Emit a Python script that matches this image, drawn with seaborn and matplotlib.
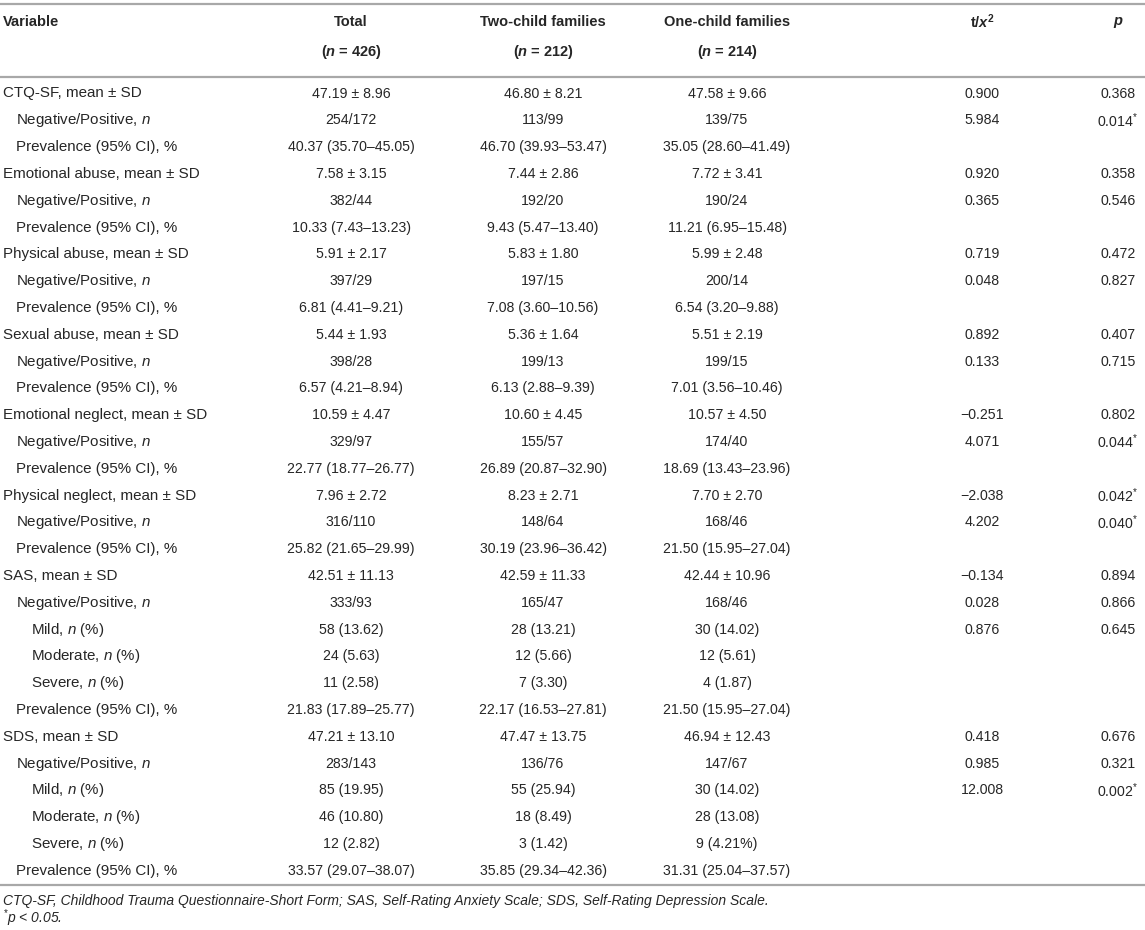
import matplotlib
matplotlib.use("Agg")
import matplotlib.pyplot as plt
import seaborn as sns

sns.set_theme(style="white")
plt.rcParams['font.family'] = ['Liberation Sans', 'DejaVu Sans']
plt.rcParams['mathtext.fontset'] = 'custom'
plt.rcParams['mathtext.rm'] = 'Liberation Sans'
plt.rcParams['mathtext.it'] = 'Liberation Sans:italic'
plt.rcParams['mathtext.bf'] = 'Liberation Sans:bold'
try:
    plt.rcParams['mathtext.bfit'] = 'Liberation Sans:italic:bold'
    BFIT = True
except Exception:
    BFIT = False

def bi(s):
    return r"$\mathbfit{%s}$" % s if BFIT else r"$\mathit{%s}$" % s

# ---------------- data ----------------
headers = ["Variable", "Total", "Two-child families", "One-child families",
           "t/" + (r"$\mathbfit{x}^{\mathbf{2}}$" if BFIT else r"$x^2$"), bi("p")]
header_n = ["", "426", "212", "214", "", ""]

row_labels = [
    "CTQ-SF, mean ± SD", "Negative/Positive, $n$", "Prevalence (95% CI), %",
    "Emotional abuse, mean ± SD", "Negative/Positive, $n$", "Prevalence (95% CI), %",
    "Physical abuse, mean ± SD", "Negative/Positive, $n$", "Prevalence (95% CI), %",
    "Sexual abuse, mean ± SD", "Negative/Positive, $n$", "Prevalence (95% CI), %",
    "Emotional neglect, mean ± SD", "Negative/Positive, $n$", "Prevalence (95% CI), %",
    "Physical neglect, mean ± SD", "Negative/Positive, $n$", "Prevalence (95% CI), %",
    "SAS, mean ± SD", "Negative/Positive, $n$", "Mild, $n$ (%)", "Moderate, $n$ (%)",
    "Severe, $n$ (%)", "Prevalence (95% CI), %",
    "SDS, mean ± SD", "Negative/Positive, $n$", "Mild, $n$ (%)", "Moderate, $n$ (%)",
    "Severe, $n$ (%)", "Prevalence (95% CI), %",
]
row_levels = [0, 1, 1] * 6 + [0, 1, 2, 2, 2, 1] * 2

total = [
    "47.19 ± 8.96", "254/172", "40.37 (35.70–45.05)",
    "7.58 ± 3.15", "382/44", "10.33 (7.43–13.23)",
    "5.91 ± 2.17", "397/29", "6.81 (4.41–9.21)",
    "5.44 ± 1.93", "398/28", "6.57 (4.21–8.94)",
    "10.59 ± 4.47", "329/97", "22.77 (18.77–26.77)",
    "7.96 ± 2.72", "316/110", "25.82 (21.65–29.99)",
    "42.51 ± 11.13", "333/93", "58 (13.62)", "24 (5.63)", "11 (2.58)", "21.83 (17.89–25.77)",
    "47.21 ± 13.10", "283/143", "85 (19.95)", "46 (10.80)", "12 (2.82)", "33.57 (29.07–38.07)",
]
two_child = [
    "46.80 ± 8.21", "113/99", "46.70 (39.93–53.47)",
    "7.44 ± 2.86", "192/20", "9.43 (5.47–13.40)",
    "5.83 ± 1.80", "197/15", "7.08 (3.60–10.56)",
    "5.36 ± 1.64", "199/13", "6.13 (2.88–9.39)",
    "10.60 ± 4.45", "155/57", "26.89 (20.87–32.90)",
    "8.23 ± 2.71", "148/64", "30.19 (23.96–36.42)",
    "42.59 ± 11.33", "165/47", "28 (13.21)", "12 (5.66)", "7 (3.30)", "22.17 (16.53–27.81)",
    "47.47 ± 13.75", "136/76", "55 (25.94)", "18 (8.49)", "3 (1.42)", "35.85 (29.34–42.36)",
]
one_child = [
    "47.58 ± 9.66", "139/75", "35.05 (28.60–41.49)",
    "7.72 ± 3.41", "190/24", "11.21 (6.95–15.48)",
    "5.99 ± 2.48", "200/14", "6.54 (3.20–9.88)",
    "5.51 ± 2.19", "199/15", "7.01 (3.56–10.46)",
    "10.57 ± 4.50", "174/40", "18.69 (13.43–23.96)",
    "7.70 ± 2.70", "168/46", "21.50 (15.95–27.04)",
    "42.44 ± 10.96", "168/46", "30 (14.02)", "12 (5.61)", "4 (1.87)", "21.50 (15.95–27.04)",
    "46.94 ± 12.43", "147/67", "30 (14.02)", "28 (13.08)", "9 (4.21%)", "31.31 (25.04–37.57)",
]
t_vals = [
    "0.900", "5.984", "",
    "0.920", "0.365", "",
    "0.719", "0.048", "",
    "0.892", "0.133", "",
    "−0.251", "4.071", "",
    "−2.038", "4.202", "",
    "−0.134", "0.028", "0.876", "", "", "",
    "0.418", "0.985", "12.008", "", "", "",
]
p_vals = [
    "0.368", "0.014*", "",
    "0.358", "0.546", "",
    "0.472", "0.827", "",
    "0.407", "0.715", "",
    "0.802", "0.044*", "",
    "0.042*", "0.040*", "",
    "0.894", "0.866", "0.645", "", "", "",
    "0.676", "0.321", "0.002*", "", "", "",
]
footnotes = [
    "CTQ-SF, Childhood Trauma Questionnaire-Short Form; SAS, Self-Rating Anxiety Scale; SDS, Self-Rating Depression Scale.",
    "$^{*}$p < 0.05.",
]

# ---------------- layout ----------------
W, H = 1145, 930
fig = plt.figure(figsize=(W / 100, H / 100), dpi=100)
ax = fig.add_axes([0, 0, 1, 1])
ax.set_xlim(0, W)
ax.set_ylim(H, 0)
ax.axis("off")

txt = "#262626"
rule = "#a8a8a8"
fs_lab = 10.9
fs_num = 10.2
fs_head = 10.5

col_x = [3, 351, 543, 727, 982, 1118]
indent = [3, 16, 31]

# rules
for y in (4, 77, 885):
    ax.plot([0, W], [y, y], color=rule, lw=1.6, solid_capstyle="butt")

# headers
for i, h in enumerate(headers):
    ha = "left" if i == 0 else "center"
    ax.text(col_x[i], 22, h, ha=ha, va="center", fontsize=fs_head, fontweight="bold", color=txt)
    if header_n[i]:
        ax.text(col_x[i], 52, "(" + bi("n") + " = " + header_n[i] + ")", ha="center", va="center",
                fontsize=fs_head, fontweight="bold", color=txt)

def fmt_p(s):
    if s.endswith("*"):
        return s[:-1] + "$^{*}$"
    return s

y0, dy = 93.5, 26.8
for r, lab in enumerate(row_labels):
    y = y0 + r * dy
    ax.text(indent[row_levels[r]], y, lab, ha="left", va="center", fontsize=fs_lab, color=txt)
    for c, col in enumerate([total, two_child, one_child, t_vals, p_vals]):
        s = col[r]
        if s:
            ax.text(col_x[c + 1], y, fmt_p(s), ha="center", va="center", fontsize=fs_num, color=txt)

ax.text(3, 901, footnotes[0], ha="left", va="center", fontsize=10, style="italic", color=txt)
ax.text(3, 918, footnotes[1], ha="left", va="center", fontsize=10, style="italic", color=txt)

fig.savefig("out.png", dpi=100, facecolor="white")
